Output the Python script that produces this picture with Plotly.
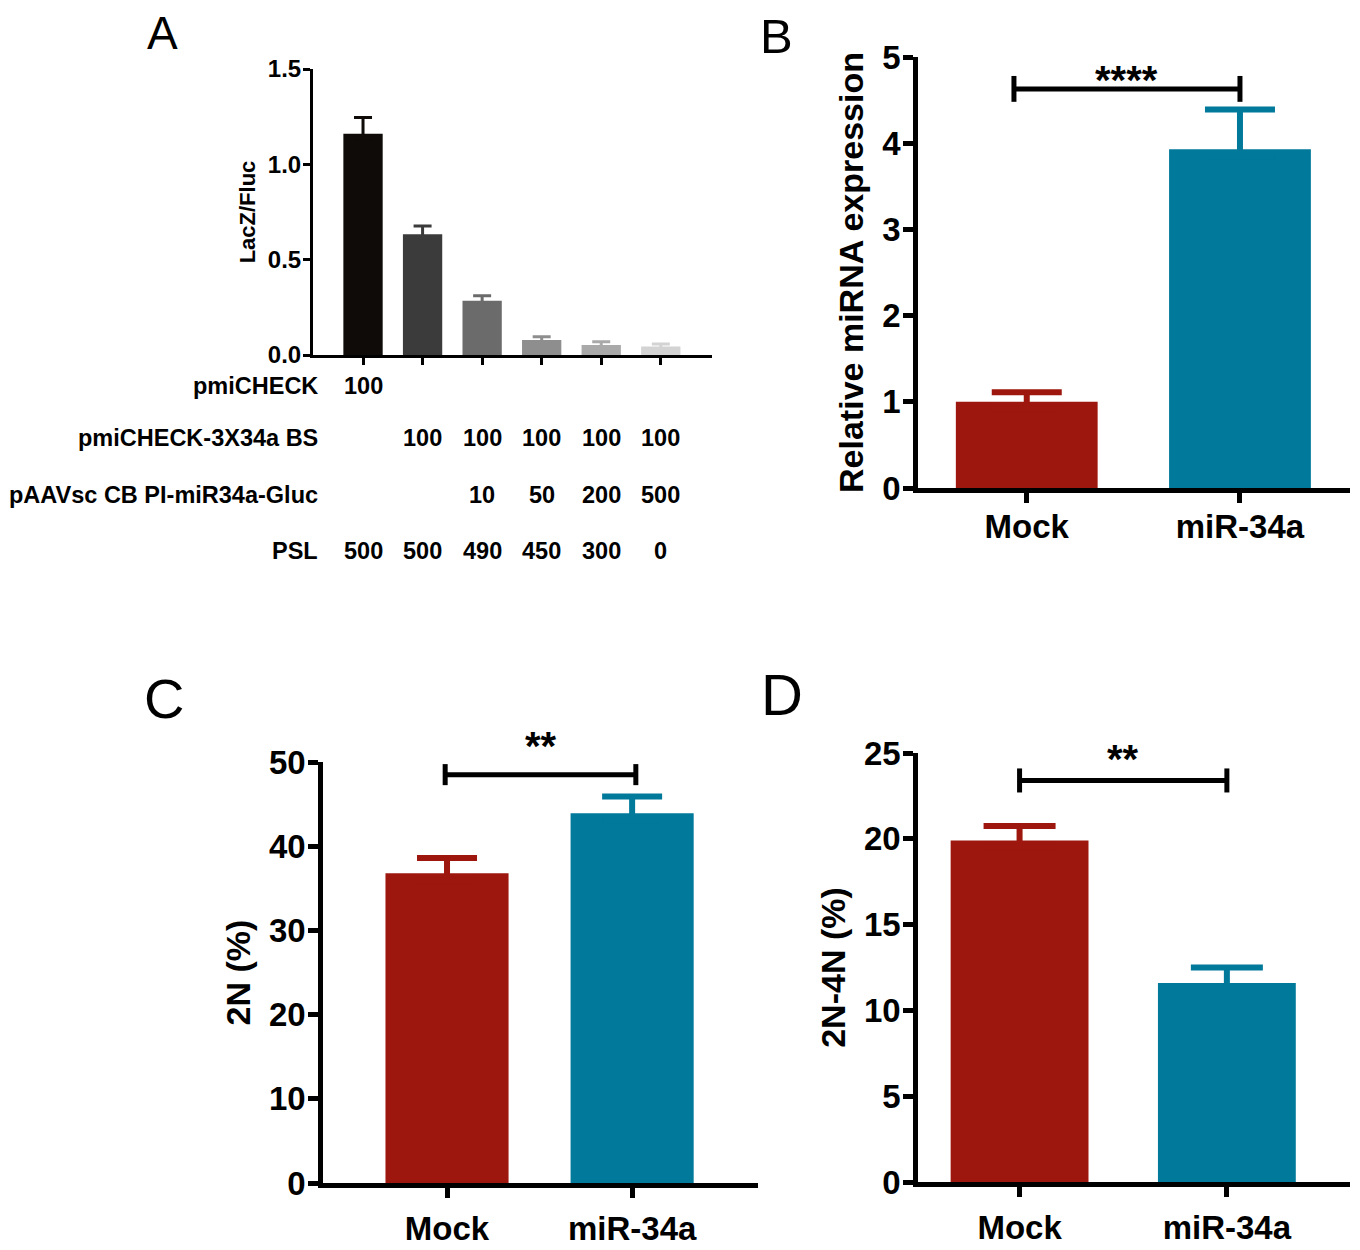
import plotly.graph_objects as go

# the page body has an 8px margin, so the figure is drawn 8px smaller and offset
PAGE_W, PAGE_H = 1360, 1250
OFF = 8
W, H = PAGE_W - OFF, PAGE_H - OFF

# ---- panel A data ----
a_groups = ["1", "2", "3", "4", "5", "6"]
a_values = [1.16, 0.633, 0.285, 0.079, 0.052, 0.044]
a_errors = [0.085, 0.043, 0.026, 0.017, 0.018, 0.014]
a_colors = ["#0e0b09", "#3b3b3b", "#6b6b6b", "#8e8e8e", "#a9a9a9", "#d3d3d3"]
a_ticks = [0, 0.5, 1.0, 1.5]

table_labels = ["pmiCHECK", "pmiCHECK-3X34a BS", "pAAVsc CB PI-miR34a-Gluc", "PSL"]
row_pmicheck = ["100", "", "", "", "", ""]
row_bs = ["", "100", "100", "100", "100", "100"]
row_paav = ["", "", "10", "50", "200", "500"]
row_psl = ["500", "500", "490", "450", "300", "0"]

# ---- panels B, C, D ----
groups = ["Mock", "miR-34a"]
bar_colors = ["#9d170e", "#00799a"]

b_values = [1.0, 3.93]
b_errors = [0.11, 0.46]
c_values = [36.8, 43.9]
c_errors = [1.8, 2.0]
d_values = [19.9, 11.6]
d_errors = [0.85, 0.9]

FONT = "Liberation Sans, Arial, sans-serif"


def px(x):
    return (x - OFF) / W


def py(y):
    return 1 - (y - OFF) / H


def add_bar(fig, x, val, err, color, xa, ya, width, thick, capw, per_px):
    # bar plus an upper-only error bar; the lower cap is tucked inside the bar
    fig.add_trace(go.Bar(x=[x], y=[val], width=width,
                         marker=dict(color=color, line=dict(width=0)),
                         xaxis=xa, yaxis=ya, showlegend=False))
    dip = per_px * (thick + 1)
    fig.add_trace(go.Scatter(x=[x], y=[val - dip], mode="markers",
                             marker=dict(size=1, opacity=0),
                             error_y=dict(type="data", array=[err + dip], arrayminus=[0],
                                          color=color, thickness=thick, width=capw),
                             xaxis=xa, yaxis=ya, showlegend=False, hoverinfo="skip"))


fig = go.Figure()

# panel A: 1.5 units over 286 px
for i, g in enumerate(a_groups):
    add_bar(fig, i, a_values[i], a_errors[i], a_colors[i], "x", "y",
            0.66, 3, 9, 1.5 / 286)

panels = [
    ("x2", "y2", b_values, b_errors, 35, 5 / 431),
    ("x3", "y3", c_values, c_errors, 30, 50 / 421),
    ("x4", "y4", d_values, d_errors, 36, 25 / 429),
]
for xa, ya, vals, errs, capw, per_px in panels:
    for i, g in enumerate(groups):
        add_bar(fig, g, vals[i], errs[i], bar_colors[i], xa, ya, 0.665, 6, capw, per_px)

axis_common = dict(showgrid=False, zeroline=False, showline=True,
                   linecolor="black", ticks="outside", tickcolor="black")

big_tick = dict(family=FONT, size=33, color="black", weight="bold")

fig.update_layout(
    width=W, height=H, margin=dict(l=0, r=0, t=0, b=0, autoexpand=False),
    plot_bgcolor="white", paper_bgcolor="white", bargap=0.3, barmode="overlay",
    font=dict(family=FONT, color="black"),
    # panel A
    xaxis=dict(domain=[px(313), px(712)], range=[-0.84, 5.86], anchor="y",
               showticklabels=False, tickvals=list(range(len(a_groups))),
               linewidth=3, tickwidth=3, ticklen=7, **axis_common),
    yaxis=dict(domain=[py(355), py(69)], range=[0, 1.5], anchor="x",
               tickvals=a_ticks, tickformat=".1f", linewidth=3, tickwidth=3, ticklen=7,
               ticklabelstandoff=-3,
               tickfont=dict(family=FONT, size=24, color="black", weight="bold"),
               title=dict(text="LacZ/Fluc", standoff=7,
                          font=dict(family=FONT, size=22, color="black", weight="bold")),
               **axis_common),
    # panel B
    xaxis2=dict(domain=[px(918), px(1350)], range=[-0.51, 1.516], anchor="y2",
                type="category", linewidth=4.5, tickwidth=4.5, ticklen=10,
                tickfont=big_tick, ticklabelstandoff=-4, **axis_common),
    yaxis2=dict(domain=[py(488), py(57)], range=[0, 5], anchor="x2", dtick=1,
                linewidth=4.5, tickwidth=4.5, ticklen=10, tickfont=big_tick,
                ticklabelstandoff=-4,
                title=dict(text="Relative miRNA expression", standoff=10,
                           font=dict(family=FONT, size=34, color="black", weight="bold")),
                **axis_common),
    # panel C
    xaxis3=dict(domain=[px(323), px(758)], range=[-0.67, 1.68], anchor="y3",
                type="category", linewidth=4.5, tickwidth=4.5, ticklen=10,
                tickfont=big_tick, ticklabelstandoff=3, **axis_common),
    yaxis3=dict(domain=[py(1183), py(762)], range=[0, 50], anchor="x3", dtick=10,
                linewidth=4.5, tickwidth=4.5, ticklen=10, tickfont=big_tick,
                ticklabelstandoff=-4,
                title=dict(text="2N (%)", standoff=10,
                           font=dict(family=FONT, size=34, color="black", weight="bold")),
                **axis_common),
    # panel D
    xaxis4=dict(domain=[px(918), px(1350)], range=[-0.49, 1.594], anchor="y4",
                type="category", linewidth=4.5, tickwidth=4.5, ticklen=10,
                tickfont=big_tick, ticklabelstandoff=3, **axis_common),
    yaxis4=dict(domain=[py(1182), py(753)], range=[0, 25], anchor="x4", dtick=5,
                linewidth=4.5, tickwidth=4.5, ticklen=10, tickfont=big_tick,
                ticklabelstandoff=-4,
                title=dict(text="2N-4N (%)", standoff=10,
                           font=dict(family=FONT, size=34, color="black", weight="bold")),
                **axis_common),
)

annotations = []

# panel letters
for letter, lx, ly, size in [("A", 162, 33, 46), ("B", 776, 36, 49),
                             ("C", 164, 698, 56), ("D", 782, 694, 58)]:
    annotations.append(dict(text=letter, x=px(lx), y=py(ly), xref="paper", yref="paper",
                            showarrow=False, xanchor="center", yanchor="middle",
                            font=dict(family=FONT, size=size, color="black")))

# panel A table
row_y = [386, 438, 495, 551]
rows = [row_pmicheck, row_bs, row_paav, row_psl]
tfont = dict(family=FONT, size=23.5, color="black", weight="bold")
for label, ry, vals in zip(table_labels, row_y, rows):
    annotations.append(dict(text=label, x=px(320), y=py(ry), xref="paper", yref="paper",
                            showarrow=False, xanchor="right", yanchor="middle", font=tfont))
    for i, v in enumerate(vals):
        if v:
            annotations.append(dict(text=v, x=i, y=py(ry), xref="x", yref="paper",
                                    showarrow=False, xanchor="center", yanchor="middle",
                                    font=tfont))

# significance brackets: axes, stars, bracket height, end tick half-length, x ends, star shift
sig = [
    ("x2", "y2", "****", 4.63, 0.15, -0.06, 1.0, -15),
    ("x3", "y3", "**", 48.5, 1.25, -0.01, 1.02, 5),
    ("x4", "y4", "**", 23.4, 0.7, 0.0, 1.0, -3),
]
shapes = []
for xa, ya, stars, yb, tick, x0, x1, shift in sig:
    shapes.append(dict(type="line", xref=xa, yref=ya, x0=x0, x1=x1, y0=yb, y1=yb,
                       line=dict(color="black", width=5)))
    for xe in (x0, x1):
        shapes.append(dict(type="line", xref=xa, yref=ya, x0=xe, x1=xe,
                           y0=yb - tick, y1=yb + tick, line=dict(color="black", width=5)))
    annotations.append(dict(text=stars, x=(x0 + x1) / 2, y=yb, xref=xa, yref=ya,
                            showarrow=False, xanchor="center", yanchor="bottom", yshift=shift,
                            font=dict(family=FONT, size=40, color="black", weight="bold")))

fig.update_layout(annotations=annotations, shapes=shapes)

fig.write_html("out.html")
